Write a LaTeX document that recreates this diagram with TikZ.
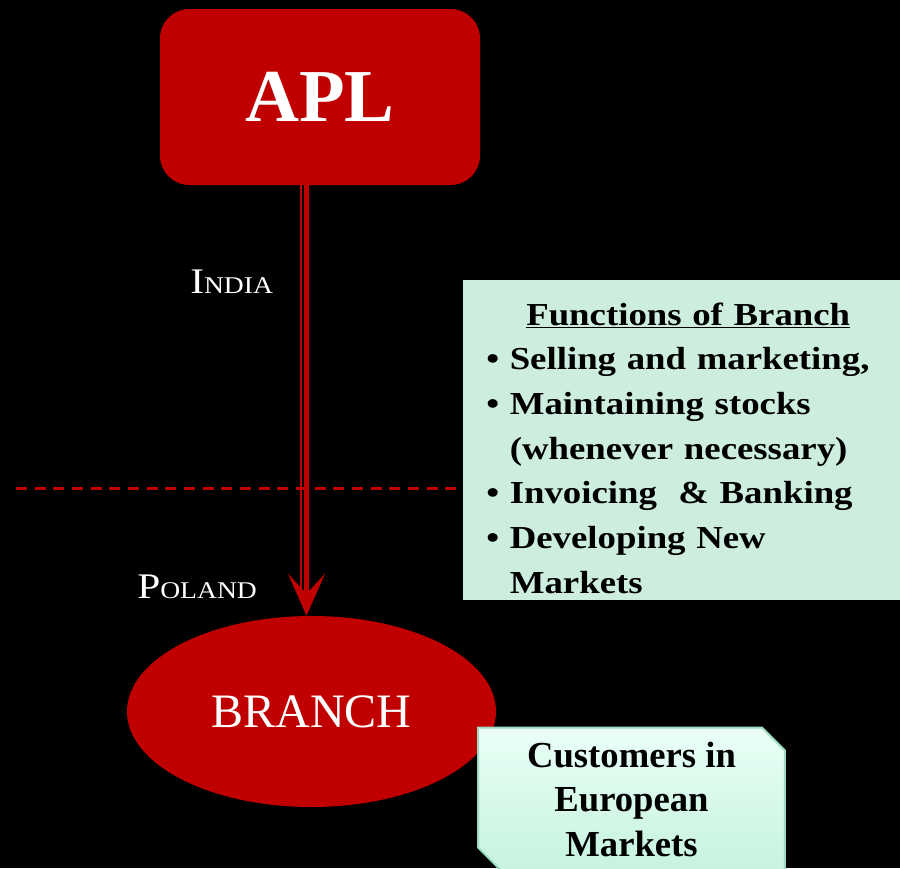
\documentclass[tikz,border=0pt]{standalone}
\usepackage{fontspec}
\setmainfont{Liberation Serif}
\newfontfamily\widefont[FakeStretch=1.15]{Liberation Serif}
\usetikzlibrary{shapes.geometric, shapes.misc, arrows.meta, positioning}

\definecolor{aplred}{HTML}{C00000}
\definecolor{funcmint}{HTML}{CDEEDF}
\definecolor{custtop}{HTML}{EAFFF6}
\definecolor{custbottom}{HTML}{C6F3DF}
\definecolor{custedge}{HTML}{9ED9C2}

\begin{document}
\begin{tikzpicture}[
    x=0.75pt, y=-0.75pt,
    head/.style={rectangle, rounded corners=22pt, fill=aplred, text=white, minimum width=240pt, minimum height=132pt, font=\fontsize{56}{60}\selectfont\bfseries},
    branchnode/.style={ellipse, fill=aplred, text=white, minimum width=276.75pt, minimum height=143.25pt, inner sep=0pt, font=\fontsize{36}{40}\selectfont},
    country/.style={text=white, inner sep=0pt, anchor=base west, font=\widefont},
    funcbox/.style={rectangle, fill=funcmint, anchor=north west, align=left, inner xsep=17.25pt, inner ysep=0pt, text width=293.25pt, text height=33.75pt, text depth=206.25pt, font=\widefont\fontsize{24}{33.5}\selectfont\bfseries},
    custbox/.style={chamfered rectangle, chamfered rectangle corners={north east, south west}, chamfered rectangle xsep=8.5pt, chamfered rectangle ysep=8.5pt, draw=custedge, line width=1.5pt, top color=custtop, bottom color=custbottom, align=center, minimum width=230pt, minimum height=107pt, inner sep=0pt, font=\fontsize{27.5}{33.4}\selectfont\bfseries},
    arrow/.style={aplred, line width=3.75pt, -{Stealth[length=31.5pt, width=27.75pt, inset=15pt]}},
    rail/.style={aplred, line width=1.5pt},
    border/.style={aplred, line width=2.25pt, dash pattern=on 8.25pt off 5.75pt}
]
    \fill[black] (0,0) rectangle (900,868);
    \useasboundingbox (0,0) rectangle (900,868);

    \node[head] (apl) at (320,97) {APL};
    \node[branchnode] (branch) at (311.5,711.5) {BRANCH};
    \node[funcbox] (funcs) at (463,280) {%
        \hspace*{30pt}\underline{Functions of Branch}\\
        \textbullet\ Selling and marketing,\\
        \textbullet\ Maintaining stocks\\
        \phantom{\textbullet\ }(whenever necessary)\\
        \textbullet\ Invoicing~ \& Banking\\
        \textbullet\ Developing New\\
        \phantom{\textbullet\ }Markets};
    \node[custbox] (cust) at (631.5,799) {Customers in\\European\\Markets};

    \node[country] (india) at (190,293) {\fontsize{27}{30}\selectfont I\fontsize{18}{20}\selectfont NDIA};
    \node[country] (poland) at (137,598) {\fontsize{27}{30}\selectfont P\fontsize{18}{20}\selectfont OLAND};

    \coordinate (railx) at (301,0);
    \coordinate (arrowx) at (306.5,0);

    % Border
    \draw[border] (16,488) -- (456,488);

    % Arrows
    \draw[rail, shorten >=15pt] (apl.south -| railx) -- (branch.north -| railx);
    \draw[arrow] (apl.south -| arrowx) -- (branch.north -| arrowx);
\end{tikzpicture}
\end{document}
